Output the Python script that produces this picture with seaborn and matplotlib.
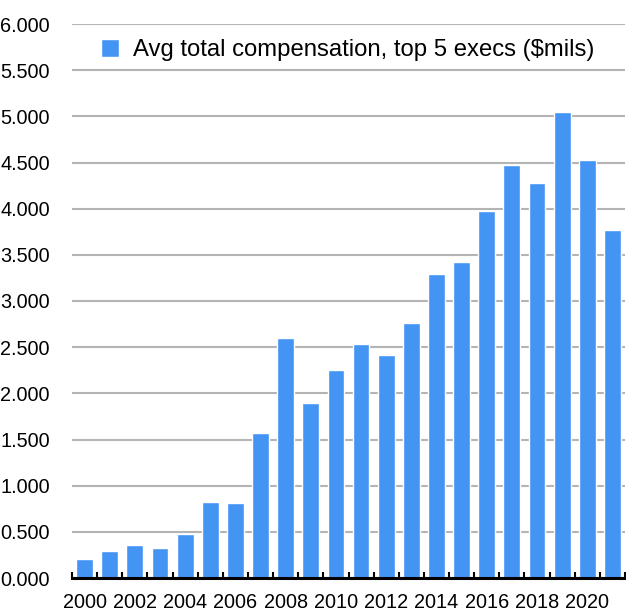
import seaborn as sns
import matplotlib
matplotlib.use("Agg")
import matplotlib.pyplot as plt
import pandas as pd
from matplotlib.ticker import FuncFormatter

years = list(range(2000, 2022))
comp = [0.21, 0.29, 0.354, 0.33, 0.475, 0.826, 0.815, 1.565, 2.604, 1.90, 2.258,
        2.539, 2.42, 2.766, 3.295, 3.425, 3.973, 4.475, 4.28, 5.05, 4.53, 3.768]
label = "Avg total compensation, top 5 execs ($mils)"
bar_color = "#4494f4"

data = pd.DataFrame({"Year": [str(y) for y in years], "Comp": comp})

sns.set_style("white")
plt.rcParams["font.family"] = ["Liberation Sans", "DejaVu Sans"]
plt.rcParams["text.color"] = "black"
plt.rcParams["xtick.color"] = "black"
plt.rcParams["ytick.color"] = "black"

fig = plt.figure(figsize=(6.26, 6.14), dpi=100)
ax = fig.add_axes([72 / 626, 1 - 578 / 614, 553 / 626, (578 - 24) / 614])

sns.barplot(x="Year", y="Comp", data=data, color=bar_color, saturation=1,
            width=0.67, ax=ax, label=label, zorder=2)

ax.set_xlim(-0.5, len(years) - 0.5)
ax.set_ylim(0, 6)
ax.set_yticks([i * 0.5 for i in range(13)])
ax.yaxis.set_major_formatter(FuncFormatter(lambda v, p: f"{v:.3f}"))
ax.grid(axis="y", color="#b4b4b4", linewidth=1.5, zorder=0)
ax.set_axisbelow(True)
for s in ["top", "left", "right"]:
    ax.spines[s].set_visible(False)
ax.spines["bottom"].set_color("black")
ax.spines["bottom"].set_linewidth(2.2)
ax.spines["bottom"].set_zorder(3)

ax.set_xticks(range(0, len(years), 2))
ax.set_xticklabels([str(y) for y in years[::2]])
ax.set_xticks([i - 0.5 for i in range(len(years) + 1)], minor=True)
ax.tick_params(axis="x", which="major", length=0, pad=11, labelsize=14.3)
ax.tick_params(axis="x", which="minor", direction="in", length=4, width=1.5,
               color="black", bottom=True)
ax.tick_params(axis="y", length=0, pad=16, labelsize=14.3)
ax.set(xlabel="", ylabel="")

ax.legend(loc="upper left", bbox_to_anchor=(0.035, 0.99), frameon=False,
          fontsize=17.2, handlelength=0.75, handleheight=0.75, handletextpad=0.6,
          borderaxespad=0)

plt.savefig("out.png", dpi=100)
